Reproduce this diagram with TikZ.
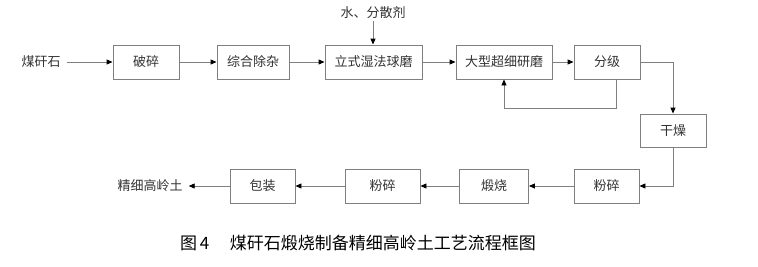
\documentclass[tikz,border=0pt]{standalone}
\usepackage{fontspec}
\newfontfamily\cjk{Noto Sans CJK SC}
\usetikzlibrary{arrows.meta,positioning}
\definecolor{linegray}{HTML}{7F7F7F}
\definecolor{txt}{HTML}{333333}
\tikzset{
  procbox/.style={draw=linegray, line width=0.9pt, minimum height=34pt, inner sep=0pt, font=\cjk\fontsize{13}{15}\selectfont, text=txt},
  plain/.style={inner sep=2pt, font=\cjk\fontsize{13}{15}\selectfont, text=txt},
  flow/.style={draw=linegray, line width=0.9pt, -{Triangle[length=6pt,width=5pt,fill=black,color=black]}},
}
\begin{document}
\begin{tikzpicture}[x=1pt,y=-1pt]
\useasboundingbox[fill=white] (0,0) rectangle (758,266);
% row 1
\node[plain] (src) at (41,62) {煤矸石};
\node[procbox, minimum width=66pt] (b1) at (146,62) {破碎};
\node[procbox, minimum width=72pt] (b2) at (253,62) {综合除杂};
\node[procbox, minimum width=97pt] (b3) at (373.5,62) {立式湿法球磨};
\node[procbox, minimum width=96pt] (b4) at (504,62) {大型超细研磨};
\node[procbox, minimum width=66pt] (b5) at (607,62) {分级};
\node[plain] (water) at (373,13) {水、分散剂};
% right
\node[procbox, minimum width=66pt, minimum height=33pt] (b6) at (673,130.5) {干燥};
% row 2
\node[procbox, minimum width=65pt] (b7) at (606.5,186) {粉碎};
\node[procbox, minimum width=69pt] (b8) at (494,186) {煅烧};
\node[procbox, minimum width=75pt] (b9) at (382.5,186) {粉碎};
\node[procbox, minimum width=65pt] (b10) at (262.5,186) {包装};
\node[plain] (dst) at (150,186) {精细高岭土};
% caption
\node[inner sep=0pt, font=\cjk\fontsize{17}{20}\selectfont, text=black] (cap) at (358,243) {图\,4\hspace{1.2em}煤矸石煅烧制备精细高岭土工艺流程框图};
% connectors
\draw[flow] (src.east) ++(4,0) -- (b1.west);
\draw[flow] (b1) -- (b2);
\draw[flow] (b2) -- (b3);
\draw[flow] (b3) -- (b4);
\draw[flow] (b4) -- (b5);
\draw[flow] (water.south) -- (water.south |- b3.north);
\coordinate (fb) at ([xshift=9pt]b5.south);
\draw[flow] (fb) -- ++(0,29) -| (b4.south);
\draw[flow] (b5.east) -| (b6.north);
\draw[flow] (b6.south) |- (b7.east);
\draw[flow] (b7) -- (b8);
\draw[flow] (b8) -- (b9);
\draw[flow] (b9) -- (b10);
\draw[flow] (b10.west) -- ([xshift=4pt]dst.east);
\end{tikzpicture}
\end{document}
